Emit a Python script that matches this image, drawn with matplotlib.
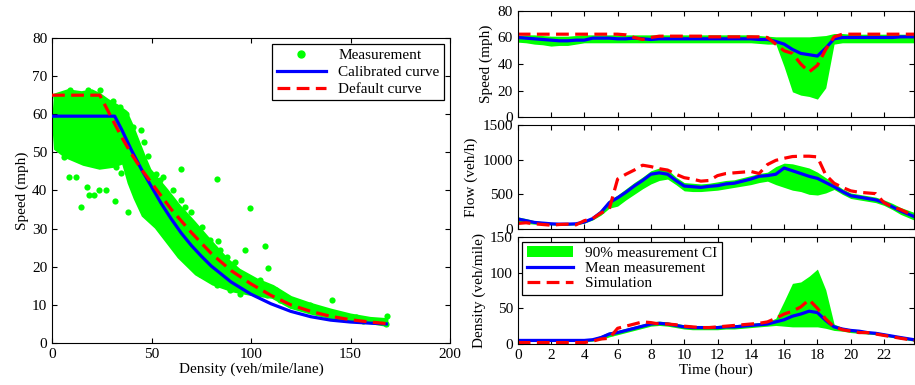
import numpy as np
import matplotlib.pyplot as plt
from matplotlib.patches import Patch
from matplotlib.lines import Line2D

plt.rcParams["font.family"] = ["Liberation Serif", "DejaVu Serif"]
plt.rcParams["font.size"] = 11
plt.rcParams["xtick.direction"] = "in"
plt.rcParams["ytick.direction"] = "in"
plt.rcParams["xtick.top"] = True
plt.rcParams["ytick.right"] = True

GREEN, BLUE, RED = "#00ff00", "#0000ff", "#ff0000"

# ---------------- left: fundamental diagram ----------------
calib_k = [0, 31.5, 35, 40, 45, 50, 55, 60, 65, 70, 75, 80, 90, 100, 110, 120, 130, 140, 150, 160, 168]
calib_v = [59.5, 59.5, 56, 50.5, 45.5, 41, 36.5, 32.5, 28.8, 25.6, 22.8, 20.2, 16, 12.8, 10.3, 8.3, 6.9, 6.0, 5.5, 5.2, 5.0]
default_k = [0, 24, 27, 30, 35, 40, 45, 50, 60, 70, 80, 90, 100, 110, 120, 130, 140, 150, 160, 168]
default_v = [65, 65, 62, 59, 54, 49.5, 45.5, 42, 35, 29, 23.5, 19, 15.5, 12.5, 10, 8.3, 7, 6.1, 5.5, 5.1]

# outline of the dense measurement cloud (upper edge then lower edge back)
cloud_k = [1.5, 2, 8, 15, 20, 24, 28, 33, 37, 40, 43, 46, 49, 57.5, 64, 71, 79, 88, 94, 103, 111,
           120, 130, 140, 150, 160, 168,
           168, 160, 150, 140, 130, 120, 111, 99, 91, 81, 72.6, 64, 59, 52.5, 46, 42, 39, 36,
           31, 24, 16, 7, 2, 1.5]
cloud_v = [61, 65, 66, 65.5, 66, 65, 63.5, 62, 60.5, 57, 53, 49, 45.3, 40, 35.7, 31.7, 26.9, 21.7, 19, 16.4, 14.7,
           11.8, 10, 8.5, 7.2, 6.3, 6,
           4.8, 5.5, 6, 6.8, 8, 9.5, 12.1, 13, 13.8, 15.6, 18.2, 22.6, 26, 30.4, 33.5, 38, 42, 47.5,
           46.5, 46, 47, 49, 51, 55]

# scattered measurement points around the cloud
meas_k = [65, 82.7, 99.4, 97.2, 107, 108.6, 140.5, 168.1, 167.6, 14.8, 31.5, 8.5, 12, 18.6, 21.1, 23.6,
          27.3, 6, 17.8, 38.2, 44.9, 46.1, 48.3, 52.5, 54.2, 55.8, 75.6, 83.5, 84.3, 91.9, 113.7,
          123.4, 156.4, 12.2, 33.2, 35.7, 41.6, 34.9, 32.4, 3.9, 46.6, 51.6, 60.9, 65, 66.7, 70,
          57.5, 55, 60.9, 67.6, 72.6, 74.3, 82.7, 89.4, 94.4, 102.8, 107.8, 114.5, 119.5, 129.6,
          134.6, 143, 153, 112.8, 104.4, 97.7, 91, 87.7, 79.3, 72.6, 67.6, 62.5,
          24, 18.1, 8.9, 2.2, 30.7, 34, 37.4, 40.7]
meas_v = [45.7, 42.9, 35.4, 24.5, 25.5, 19.7, 11.2, 7.2, 5.1, 35.8, 37.2, 43.5, 43.5, 38.7, 38.9, 40.2,
          40, 48.8, 40.9, 34.4, 55.8, 52.7, 49, 44.4, 42.7, 43.5, 30.4, 26.7, 24.3, 21.2, 12.8,
          10.8, 5.9, 50.5, 50.1, 53.1, 51.2, 44.7, 46.2, 51.4, 39.2, 37.4, 40, 37.4, 35.7, 34.4,
          32.2, 31.3, 26, 23.4, 20.8, 18.2, 15.1, 13.8, 12.9, 13.8, 12.5, 11.2, 10.3, 9.9,
          8.6, 7.7, 6.8, 13.8, 16.4, 17.3, 20.8, 22.6, 26.9, 29.5, 32.2, 34.8,
          66.4, 66.3, 66.4, 64.5, 63.6, 61.9, 60.1, 56.6]

# ---------------- right: daily time series ----------------
hours = list(np.arange(0, 23.5, 0.5)) + [23.8]

speed_mean = [60, 59.5, 59, 58.5, 58, 57.5, 57.5, 58, 58, 59.5, 59.5, 59.5, 59, 59, 59.5, 59, 58.5, 59, 59, 59,
              59, 59, 59, 59, 59, 59, 59, 59, 59, 58.5, 58.5, 57, 55, 51, 48, 47, 46, 52, 59, 60,
              60, 60, 60, 60, 60, 60, 60.5, 60.5]
speed_lo = [56.5, 56, 55, 54.5, 53.5, 54, 54, 55, 56, 56, 56, 56, 56, 56, 56, 56, 56, 56, 56, 56,
            56, 56, 56, 56, 56, 56, 56, 56, 56, 55.5, 55, 55, 38, 19, 16.5, 15.5, 13.5, 22, 55, 56,
            56, 56, 56, 56, 56, 56, 56, 56]
speed_hi = [61.5, 62, 62, 61.5, 61, 61, 61, 61.5, 62, 62, 62, 62, 62, 62, 62, 62, 62, 62, 62, 62,
            62, 62, 62, 62, 62, 62, 62, 62, 62, 61.5, 61, 60.5, 60.5, 60.5, 60.5, 60.5, 61, 61.5, 63, 63,
            62.5, 62.5, 62.5, 62.5, 62.5, 62.5, 62.5, 62.5]
speed_sim = [62.5, 62.5, 62.5, 62.5, 62.5, 62.5, 62.5, 62.5, 62.5, 62.5, 62.5, 62.5, 62.5, 62, 60, 58.5, 60, 61, 61, 61,
             61, 61, 61, 60.5, 60.5, 60.5, 60.5, 60.5, 60.5, 60.5, 60, 55, 50, 48, 40, 34, 39, 51, 60.5, 62.5,
             62.5, 62.5, 62.5, 62.5, 62.5, 62.5, 62.5, 62.5]

flow_mean = [145, 120, 95, 85, 75, 70, 70, 75, 100, 150, 240, 380, 450, 530, 620, 700, 790, 810, 790, 700,
             620, 610, 600, 615, 625, 650, 660, 690, 720, 760, 770, 790, 880, 840, 800, 760, 730, 670, 610, 540,
             480, 460, 440, 420, 380, 320, 260, 180]
flow_lo = [90, 80, 70, 65, 60, 55, 55, 60, 85, 130, 200, 300, 330, 420, 500, 580, 650, 700, 720, 640,
           550, 540, 540, 550, 560, 580, 600, 620, 640, 670, 690, 640, 600, 560, 540, 500, 490, 520, 570, 500,
           440, 420, 400, 380, 340, 280, 210, 130]
flow_hi = [175, 150, 120, 105, 95, 90, 90, 95, 120, 175, 280, 420, 490, 580, 670, 750, 840, 880, 860, 750,
           670, 660, 650, 660, 680, 700, 710, 740, 770, 800, 820, 900, 950, 940, 910, 880, 820, 740, 660, 580,
           520, 500, 480, 460, 420, 370, 310, 240]
flow_sim = [80, 90, 75, 65, 55, 65, 70, 60, 120, 150, 230, 290, 720, 790, 850, 920, 900, 870, 850, 790,
            740, 720, 690, 700, 770, 800, 810, 820, 830, 800, 930, 990, 1020, 1045, 1050, 1050, 1040, 780, 660, 600,
            550, 530, 520, 510, 380, 320, 280, 190]

dens_mean = [5, 5, 5, 5, 5, 5, 5, 5, 5, 6, 9, 14, 16, 19, 22, 25, 28, 29, 28, 26,
             24, 23, 23, 23, 23, 24, 24, 25, 26, 27, 28, 31, 34, 39, 42, 46, 44, 33, 24, 21,
             19, 18, 16, 15, 13, 11, 9, 6]
dens_lo = [3.5, 3.5, 3.5, 3.5, 3.5, 3.5, 3.5, 3.5, 3.5, 4, 6, 10, 13, 16, 19, 22, 25, 26, 25, 23,
           21, 20, 20, 20, 20, 21, 21, 22, 23, 24, 25, 26, 25, 24, 24, 24, 24, 22, 19, 18,
           16, 15, 14, 13, 11, 9, 7, 4]
dens_hi = [6.5, 6.5, 6.5, 6.5, 6.5, 6.5, 6.5, 6.5, 6.5, 8, 12, 17, 19, 22, 25, 28, 31, 32, 31, 29,
           27, 26, 26, 26, 26, 27, 27, 28, 29, 30, 31, 36, 60, 85, 87, 95, 105, 76, 28, 23,
           21, 20, 18, 17, 15, 13, 11, 8]
dens_sim = [2, 2, 2, 2, 2, 2, 2, 2, 2, 4, 7, 8, 22, 25, 28, 31, 30, 28, 28, 27,
            25, 24, 23, 23, 24, 25, 26, 27, 28, 29, 31, 36, 42, 46, 52, 62, 50, 35, 24, 20,
            18, 16, 16, 14, 12, 10, 8, 5]

W, H = 915, 385
fig = plt.figure(figsize=(W / 100, H / 100), dpi=100)


def px_axes(left, top, right, bottom):
    return fig.add_axes([left / W, 1 - bottom / H, (right - left) / W, (bottom - top) / H])


# left panel
ax = px_axes(52, 38, 450, 343)
ax.fill(cloud_k, cloud_v, color=GREEN, linewidth=3, edgecolor=GREEN, zorder=1)
ax.scatter(meas_k, meas_v, s=20, color=GREEN, linewidths=0, zorder=2)
ax.plot(calib_k, calib_v, color=BLUE, linewidth=2.3, zorder=3)
ax.plot(default_k, default_v, color=RED, linewidth=2.3, linestyle=(0, (4, 2)), zorder=4)
ax.set_xlim(0, 200)
ax.set_ylim(0, 80)
ax.set_xticks([0, 50, 100, 150, 200])
ax.set_xlabel("Density (veh/mile/lane)", labelpad=1)
ax.set_ylabel("Speed (mph)", labelpad=2)
handles = [Line2D([], [], marker="o", linestyle="none", color=GREEN, markersize=5),
           Line2D([], [], color=BLUE, linewidth=2.3),
           Line2D([], [], color=RED, linewidth=2.3, linestyle=(0, (4, 2)))]
leg = ax.legend(handles, ["Measurement", "Calibrated curve", "Default curve"], loc="upper right",
                fancybox=False, edgecolor="black", framealpha=1, borderaxespad=0.4,
                handlelength=3.2, labelspacing=0.2, borderpad=0.3)
leg.get_frame().set_linewidth(0.9)

# right panels
panels = [
    (11, 117, speed_lo, speed_hi, speed_mean, speed_sim, (0, 80), [0, 20, 40, 60, 80], "Speed (mph)"),
    (125, 229, flow_lo, flow_hi, flow_mean, flow_sim, (0, 1500), [0, 500, 1000, 1500], "Flow (veh/h)"),
    (237, 344, dens_lo, dens_hi, dens_mean, dens_sim, (0, 150), [0, 50, 100, 150], "Density (veh/mile)"),
]
for i, (top, bottom, lo, hi, mean, sim, ylim, yt, ylabel) in enumerate(panels):
    ax = px_axes(517.7, top, 914, bottom)
    ax.fill_between(hours, lo, hi, color=GREEN, linewidth=0)
    ax.plot(hours, mean, color=BLUE, linewidth=2.3)
    ax.plot(hours, sim, color=RED, linewidth=2.3, linestyle=(0, (4, 2)))
    ax.set_xlim(0, 23.8)
    ax.set_ylim(*ylim)
    ax.set_yticks(yt)
    ax.set_xticks(range(0, 24, 2))
    ax.set_ylabel(ylabel, labelpad=3)
    if i < 2:
        ax.tick_params(labelbottom=False)
    else:
        ax.set_xlabel("Time (hour)", labelpad=1)
        handles = [Patch(facecolor=GREEN, edgecolor="none"),
                   Line2D([], [], color=BLUE, linewidth=2.3),
                   Line2D([], [], color=RED, linewidth=2.3, linestyle=(0, (4, 2)))]
        leg = ax.legend(handles, ["90% measurement CI", "Mean measurement", "Simulation"], loc="upper left",
                        fancybox=False, edgecolor="black", framealpha=1, borderaxespad=0.3,
                        handlelength=3.0, labelspacing=0.1, borderpad=0.3)
        leg.get_frame().set_linewidth(0.9)

fig.savefig("out.png", dpi=100)
